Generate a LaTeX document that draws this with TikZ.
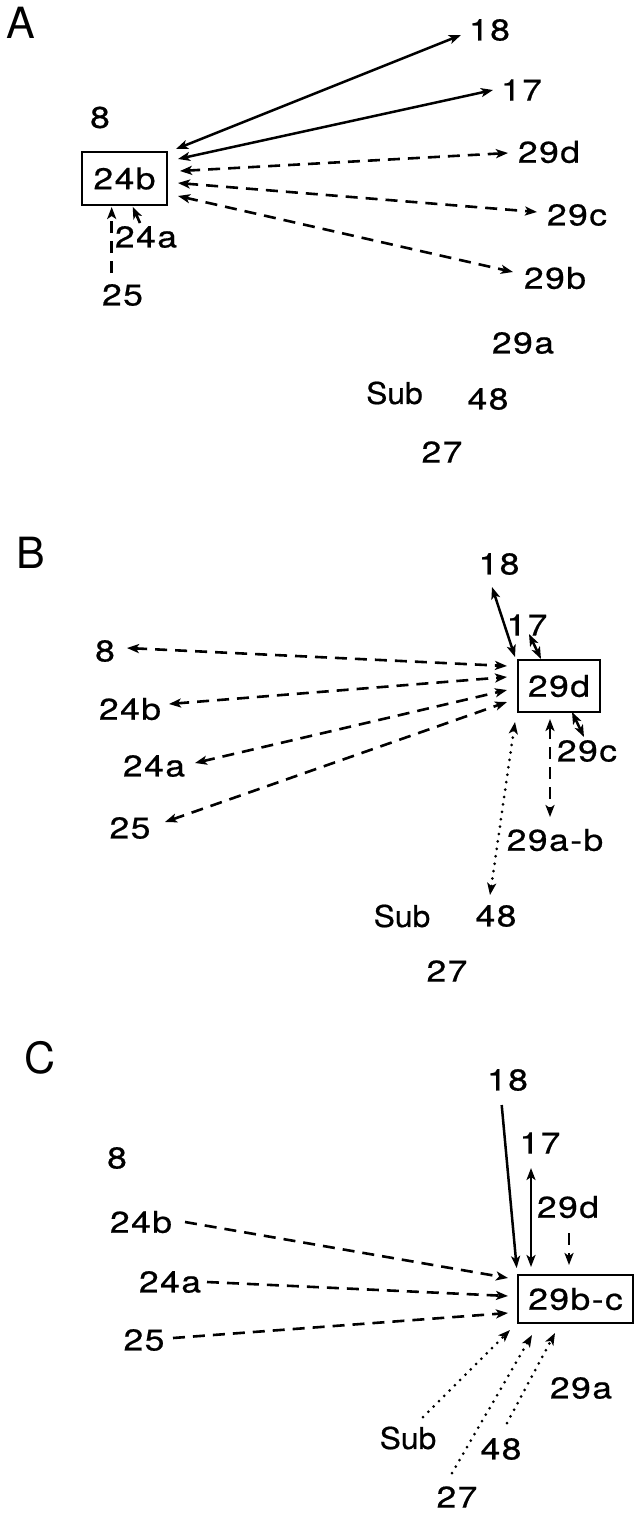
\documentclass[tikz,border=0pt]{standalone}
\usepackage{fontspec}
\setmainfont{TeX Gyre Heros}
\newfontfamily\lblfont[FakeStretch=1.18, LetterSpace=5, FakeBold=0.6]{TeX Gyre Heros}
\newfontfamily\sublblfont[FakeStretch=1.06, FakeBold=0.6]{TeX Gyre Heros}
\usetikzlibrary{arrows.meta}
\begin{document}
\begin{tikzpicture}[x=1pt,y=-1pt,
  >={Stealth[length=12pt,width=9pt,inset=3pt]},
  lbl/.style={inner sep=0pt, font=\fontsize{30}{34}\lblfont},
  sublbl/.style={inner sep=0pt, font=\fontsize{30}{34}\sublblfont},
  panel/.style={inner sep=0pt, font=\fontsize{43}{48}\selectfont},
  boxn/.style={draw, line width=2.7pt, inner sep=0pt, font=\fontsize{30}{34}\lblfont},
  sol/.style={line width=2.5pt},
  dsh/.style={line width=2.6pt, dash pattern=on 12pt off 8pt},
  dots/.style={line width=3pt, line cap=round, dash pattern=on 0pt off 7.5pt}]
\fill[white] (0,0) rectangle (635,1513);
\useasboundingbox (0,0) rectangle (635,1513);

% ---------------- Panel A ----------------
\node[panel] (pA) at (21,22.5) {A};
\node[lbl] (A18) at (489.5,30) {18};
\node[lbl] (A17) at (521.5,90) {17};
\node[lbl] (A8) at (100,117.5) {8};
\node[boxn, minimum width=85pt, minimum height=53pt] (Abox) at (124.5,178.5) {24b};
\node[lbl] (A29d) at (549,152) {29d};
\node[lbl] (A29c) at (577,215) {29c};
\node[lbl] (A29b) at (555,278) {29b};
\node[lbl] (A24a) at (146,237) {24a};
\node[lbl] (A25) at (122.5,295) {25};
\node[lbl] (A29a) at (523,343) {29a};
\node[sublbl] (ASub) at (394.5,393) {Sub};
\node[lbl] (A48) at (488,399) {48};
\node[lbl] (A27) at (442,452) {27};

\draw[sol,<->] ([shift={(51.5,-29.5)}]Abox.center) -- ([shift={(-28.5,5)}]A18.center);
\draw[sol,<->] ([shift={(53.5,-19.5)}]Abox.center) -- ([shift={(-28.5,0)}]A17.center);
\draw[dsh,<->] ([shift={(55.5,-7.5)}]Abox.center) -- ([shift={(-41,1)}]A29d.center);
\draw[dsh,<->] ([shift={(53.5,4.5)}]Abox.center) -- ([shift={(-40,-3)}]A29c.center);
\draw[dsh,<->] ([shift={(53.5,17.5)}]Abox.center) -- ([shift={(-42,-6)}]A29b.center);
\draw[dsh,->] ([shift={(-10.8,-22)}]A25.center) -- ([shift={(-12.8,28.5)}]Abox.center);
\draw[dsh,->] ([shift={(-6,-14)}]A24a.center) -- ([shift={(8.2,28.2)}]Abox.center);

% ---------------- Panel B ----------------
\node[panel] (pB) at (30.5,553) {B};
\node[lbl] (B18) at (499,564) {18};
\node[lbl] (B17) at (527,625) {17};
\node[lbl] (B8) at (105,651) {8};
\node[boxn, minimum width=82pt, minimum height=52pt] (Bbox) at (559,686) {29d};
\node[lbl] (B24b) at (130,709) {24b};
\node[lbl] (B24a) at (154,766) {24a};
\node[lbl] (B25) at (130,828) {25};
\node[lbl] (B29c) at (587,751) {29c};
\node[lbl] (B29ab) at (555,840) {29a-b};
\node[sublbl] (BSub) at (402,916) {Sub};
\node[lbl] (B48) at (496,916) {48};
\node[lbl] (B27) at (447,971) {27};

\draw[sol,<->] ([shift={(-7,23)}]B18.center) -- ([shift={(-44,-29)}]Bbox.center);
\draw[sol,<->] ([shift={(2,9)}]B17.center) -- ([shift={(-18,-27)}]Bbox.center);
\draw[dsh,<->] ([shift={(22,-3)}]B8.center) -- ([shift={(-52,-20)}]Bbox.center);
\draw[dsh,<->] ([shift={(39,-5)}]B24b.center) -- ([shift={(-52,-9)}]Bbox.center);
\draw[dsh,<->] ([shift={(41,-3)}]B24a.center) -- ([shift={(-52,4)}]Bbox.center);
\draw[dsh,<->] ([shift={(35,-6)}]B25.center) -- ([shift={(-52,16)}]Bbox.center);
\draw[sol,<->] ([shift={(13,26)}]Bbox.center) -- ([shift={(-3,-14)}]B29c.center);
\draw[dsh,<->] ([shift={(-9,33)}]Bbox.center) -- ([shift={(-5,-23)}]B29ab.center);
\draw[dots,<->] ([shift={(-44,36)}]Bbox.center) -- ([shift={(-6,-21)}]B48.center);

% ---------------- Panel C ----------------
\node[panel] (pC) at (40,1058) {C};
\node[lbl] (C18) at (507.5,1080) {18};
\node[lbl] (C17) at (540,1143) {17};
\node[lbl] (C8) at (117,1158) {8};
\node[lbl] (C29d) at (568,1207) {29d};
\node[lbl] (C24b) at (141,1222) {24b};
\node[lbl] (C24a) at (170,1282) {24a};
\node[lbl] (C25) at (144,1340) {25};
\node[boxn, minimum width=115pt, minimum height=48pt] (Cbox) at (575.5,1299) {29b-c};
\node[lbl] (C29a) at (581,1388) {29a};
\node[sublbl] (CSub) at (408,1438) {Sub};
\node[lbl] (C48) at (501,1449) {48};
\node[lbl] (C27) at (457,1497) {27};

\draw[sol,->] ([shift={(-5.8,25)}]C18.center) -- ([shift={(-58.8,-31)}]Cbox.center);
\draw[sol,<->] ([shift={(-9,25)}]C17.center) -- ([shift={(-44.5,-32)}]Cbox.center);
\draw[dsh,->] ([shift={(1,26)}]C29d.center) -- ([shift={(-6.5,-34)}]Cbox.center);
\draw[dsh,->] ([shift={(44,0)}]C24b.center) -- ([shift={(-67.5,-21)}]Cbox.center);
\draw[dsh,->] ([shift={(37,0)}]C24a.center) -- ([shift={(-67.5,-3)}]Cbox.center);
\draw[dsh,->] ([shift={(29,-2)}]C25.center) -- ([shift={(-67.5,14)}]Cbox.center);
\draw[dots,->] ([shift={(15,-21)}]CSub.center) -- ([shift={(-65.5,31)}]Cbox.center);
\draw[dots,->] ([shift={(-5,-24)}]C27.center) -- ([shift={(-43.5,36)}]Cbox.center);
\draw[dots,->] ([shift={(6,-26)}]C48.center) -- ([shift={(-20.5,34)}]Cbox.center);
\end{tikzpicture}
\end{document}
